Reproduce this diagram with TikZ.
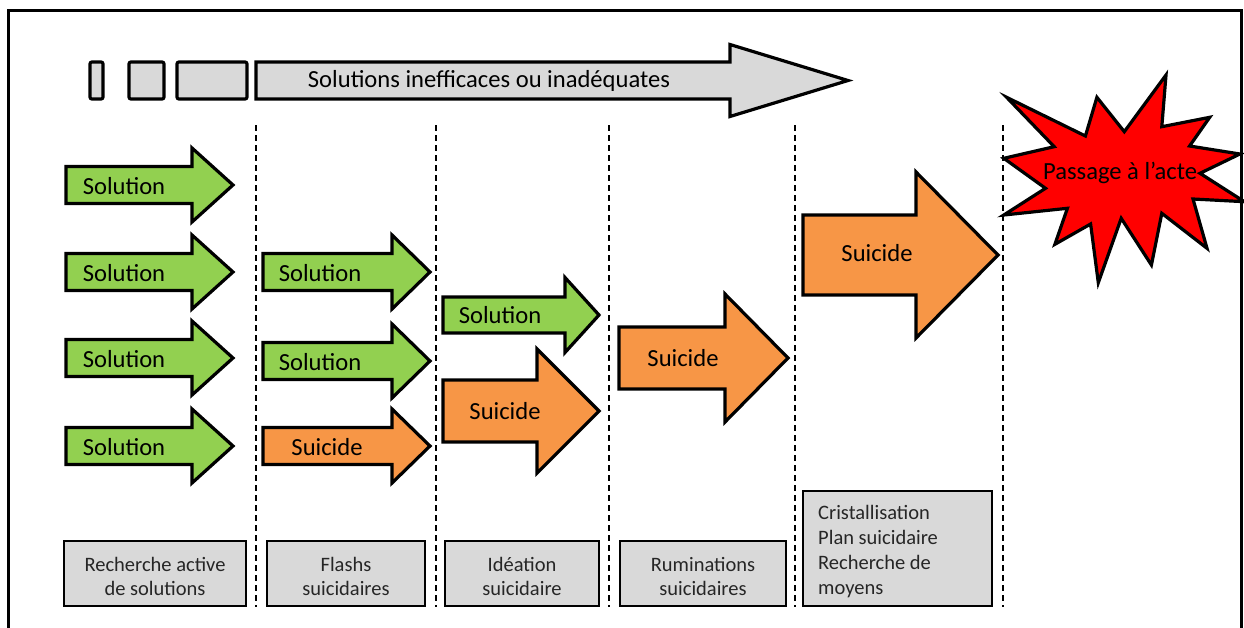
\documentclass[tikz,border=0pt]{standalone}
\usepackage{fontspec}
\setmainfont{Carlito}
\definecolor{gfill}{HTML}{92D050}
\definecolor{ofill}{HTML}{F79646}
\definecolor{grfill}{HTML}{D9D9D9}
\definecolor{rfill}{HTML}{FF0000}
\tikzset{
 blk/.style={draw=black, line width=3.2pt, line join=miter},
 lbl/.style={font=\fontsize{24.6}{29}\selectfont, inner sep=0pt},
 stagebox/.style={draw=black, line width=2pt, fill=grfill, inner sep=0pt},
 stagetext/.style={font=\fontsize{20.5}{24}\selectfont, text=black!85, align=center, inner sep=0pt},
 sepline/.style={dash pattern=on 6pt off 4pt, line width=1.5pt},
 smallrect/.style={blk, fill=grfill, rounded corners=2pt, minimum height=37pt, inner sep=0pt},
}
% x0, xhead, xtip, ycenter, body half height, head half height, colour
\newcommand{\BArrow}[7]{%
 \draw[blk, fill=#7] (#1,{#4-#5}) -- (#2,{#4-#5}) -- (#2,{#4-#6}) -- (#3,#4) -- (#2,{#4+#6}) -- (#2,{#4+#5}) -- (#1,{#4+#5}) -- cycle;}
\begin{document}
\begin{tikzpicture}[x=1pt,y=-1pt]
\useasboundingbox (0,0) rectangle (1244,627);
\clip (0,0) rectangle (1244,627);
\fill[white] (0,0) rectangle (1244,627);

% separators
\foreach \n/\x in {s1/256,s2/436,s3/609,s4/795,s5/1003}{
  \coordinate (\n t) at (\x,125);
  \coordinate (\n b) at (\x,607);
  \draw[sepline] (\n t) -- (\n b);
}

% top bar
\node[smallrect, minimum width=13pt] (r1) at (96.5,80.5) {};
\node[smallrect, minimum width=35pt] (r2) at (146.5,80.5) {};
\node[smallrect, minimum width=70pt] (r3) at (212,80.5) {};
\BArrow{256}{730}{848}{80.5}{18.5}{36}{grfill}
\node[lbl] (ineff) at (489,81) {Solutions inefficaces ou inadéquates};

% column 1
\BArrow{66}{192}{233}{185}{18.5}{37}{gfill}
\BArrow{66}{192}{233}{272}{18.5}{37}{gfill}
\BArrow{66}{192}{233}{358}{18.5}{37}{gfill}
\BArrow{66}{192}{233}{446}{18.5}{37}{gfill}
\node[lbl] (a11) at (124,186) {Solution};
\node[lbl] (a12) at (124,273) {Solution};
\node[lbl] (a13) at (124,359) {Solution};
\node[lbl] (a14) at (124,447) {Solution};

% column 2
\BArrow{263}{392}{430}{272}{18.5}{37}{gfill}
\BArrow{263}{392}{430}{361}{18.5}{37}{gfill}
\BArrow{263}{392}{430}{446}{18.5}{37}{ofill}
\node[lbl] (a21) at (320,273) {Solution};
\node[lbl] (a22) at (320,362) {Solution};
\node[lbl] (a23) at (327,447) {Suicide};

% column 3
\BArrow{443}{565}{599}{315}{18}{37.5}{gfill}
\BArrow{443}{537}{599}{411}{31}{62}{ofill}
\node[lbl] (a31) at (500,315) {Solution};
\node[lbl] (a32) at (505,411) {Suicide};

% column 4
\BArrow{619}{725}{788}{358}{31}{64}{ofill}
\node[lbl] (a41) at (683,358) {Suicide};

% column 5
\BArrow{803}{916}{998}{255}{40}{83}{ofill}
\node[lbl] (a51) at (877,253) {Suicide};

% starburst
\draw[blk, fill=rfill] (1096.9,97.3) -- (1124.3,131.7) -- (1166,75) -- (1161.8,126.7)
 -- (1209.7,117.3) -- (1189.6,146) -- (1239.9,154) -- (1200,173.3) -- (1244.4,201.7)
 -- (1193,199) -- (1207,248.3) -- (1161.8,213.3) -- (1151.4,265) -- (1121.2,218.3)
 -- (1098.3,282.7) -- (1090.6,224) -- (1054.9,244.3) -- (1067.4,208.3) -- (1003.8,215)
 -- (1045.5,188.3) -- (1003.8,158.3) -- (1054.2,146.7) -- (1006.6,97.3) -- (1085.4,136) -- cycle;
\node[lbl] (act) at (1120,173) {Passage à l’acte};

% stage boxes
\node[stagebox, minimum width=182pt, minimum height=65pt] (b1) at (155,573.5) {};
\node[stagebox, minimum width=158pt, minimum height=65pt] (b2) at (346,573.5) {};
\node[stagebox, minimum width=154pt, minimum height=65pt] (b3) at (522,573.5) {};
\node[stagebox, minimum width=166pt, minimum height=65pt] (b4) at (703,573.5) {};
\node[stagebox, minimum width=189pt, minimum height=115pt] (b5) at (897.5,548.5) {};
\node[stagetext] (t1) at ([yshift=-3pt]b1.center) {Recherche active\\de solutions};
\node[stagetext] (t2) at ([yshift=-3pt]b2.center) {Flashs\\suicidaires};
\node[stagetext] (t3) at ([yshift=-3pt]b3.center) {Idéation\\suicidaire};
\node[stagetext] (t4) at ([yshift=-3pt]b4.center) {Ruminations\\suicidaires};
\node[stagetext, font=\fontsize{20.5}{25}\selectfont, align=left, anchor=west] (t5) at ([xshift=16pt,yshift=-3.5pt]b5.west) {Cristallisation\\Plan suicidaire\\Recherche de\\moyens};

% frame
\coordinate (fbl) at (8,640);
\coordinate (ftl) at (8,10);
\coordinate (ftr) at (1241,10);
\coordinate (fbr) at (1241,640);
\draw[line width=3pt] (fbl) -- (ftl) -- (ftr) -- (fbr);
\end{tikzpicture}
\end{document}
